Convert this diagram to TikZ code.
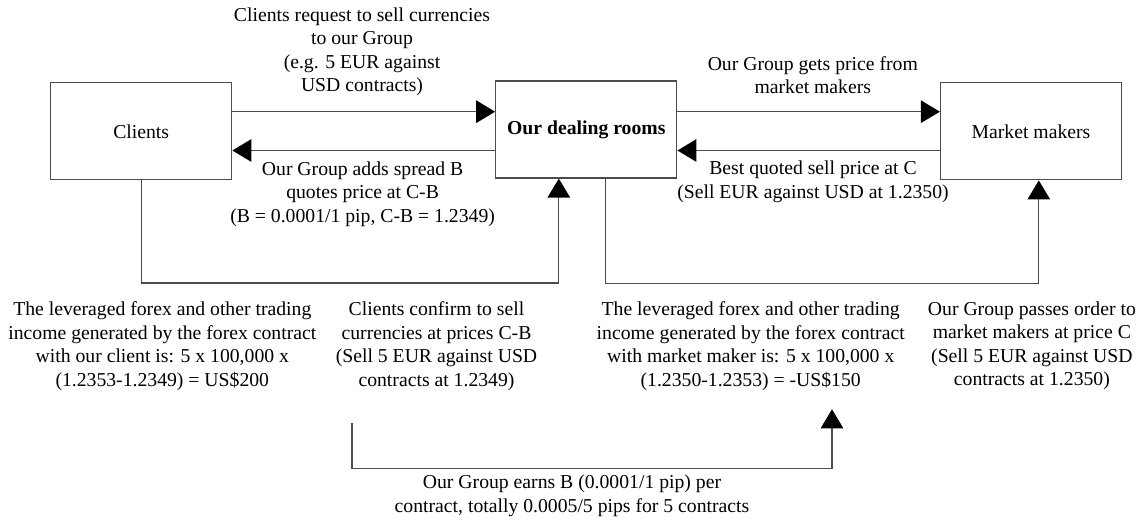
\documentclass[tikz,border=0pt]{standalone}
\usepackage{fontspec}
\setmainfont{Liberation Serif}
\usetikzlibrary{arrows.meta}

\begin{document}
\begin{tikzpicture}[x=1pt,y=-1pt,
  every node/.style={font=\fontsize{19.7}{23.5}\selectfont},
  party/.style={draw=black!70, line width=1.3pt, rectangle, minimum width=181pt, minimum height=97pt, inner sep=0pt},
  note/.style={align=center, inner sep=0pt},
  link/.style={draw=black!70, line width=1.3pt, -{Triangle[length=19pt,width=22.5pt,color=black]}}
]
\useasboundingbox (0,0) rectangle (1146,521);

% the three parties
\node[party] (clients) at (141.2,131.3) {Clients};
\node[party] (dealing) at (586.3,129.5) {\bfseries Our dealing rooms};
\node[party] (mm)      at (1031,131.3)  {Market makers};

% request / quote between clients and the dealing rooms
\draw[link] ([yshift=19.6pt]clients.east) -- ([yshift=19.6pt]clients.east -| dealing.west);
\draw[link] ([yshift=-19.2pt]clients.east -| dealing.west) -- ([yshift=-19.2pt]clients.east);

% price request / quote between the dealing rooms and market makers
\draw[link] ([yshift=17.8pt]dealing.east) -- ([yshift=17.8pt]dealing.east -| mm.west);
\draw[link] ([yshift=-21pt]dealing.east -| mm.west) -- ([yshift=-21pt]dealing.east);

% confirmation and order paths
\draw[link] (clients.south) -- ++(0,102.7) -| ([xshift=-27.5pt]dealing.south);
\draw[link] ([xshift=19.4pt]dealing.south) -- ++(0,104.7) -| ([xshift=7.8pt]mm.south);

% spread earned
\coordinate (earnfrom) at (352,423.3);
\coordinate (earnto)   at (832,409.3);
\draw[link] (earnfrom) -- (352,468.3) -| (earnto);

% labels
\node[note] (lreq) at (362,52) {Clients request to sell currencies\\to our Group\\(e.g. 5 EUR against\\USD contracts)};
\node[note] (lquote) at (362.6,194.2) {Our Group adds spread B\\quotes price at C-B\\(B = 0.0001/1 pip, C-B = 1.2349)};
\node[note] (lget) at (812.8,75) {Our Group gets price from\\market makers};
\node[note] (lbest) at (813,182) {Best quoted sell price at C\\(Sell EUR against USD at 1.2350)};

\node[note] (lincc) at (162.3,346) {The leveraged forex and other trading\\income generated by the forex contract\\with our client is: 5 x 100,000 x\\(1.2353-1.2349) = US\$200};
\node[note] (lconf) at (436.5,346) {Clients confirm to sell\\currencies at prices C-B\\(Sell 5 EUR against USD\\contracts at 1.2349)};
\node[note] (lincm) at (750.7,346) {The leveraged forex and other trading\\income generated by the forex contract\\with market maker is: 5 x 100,000 x\\(1.2350-1.2353) = -US\$150};
\node[note] (lpass) at (1031.9,346) {Our Group passes order to\\market makers at price C\\(Sell 5 EUR against USD\\contracts at 1.2350)};

\node[note] (learn) at (572,496) {Our Group earns B (0.0001/1 pip) per\\contract, totally 0.0005/5 pips for 5 contracts};
\end{tikzpicture}
\end{document}
